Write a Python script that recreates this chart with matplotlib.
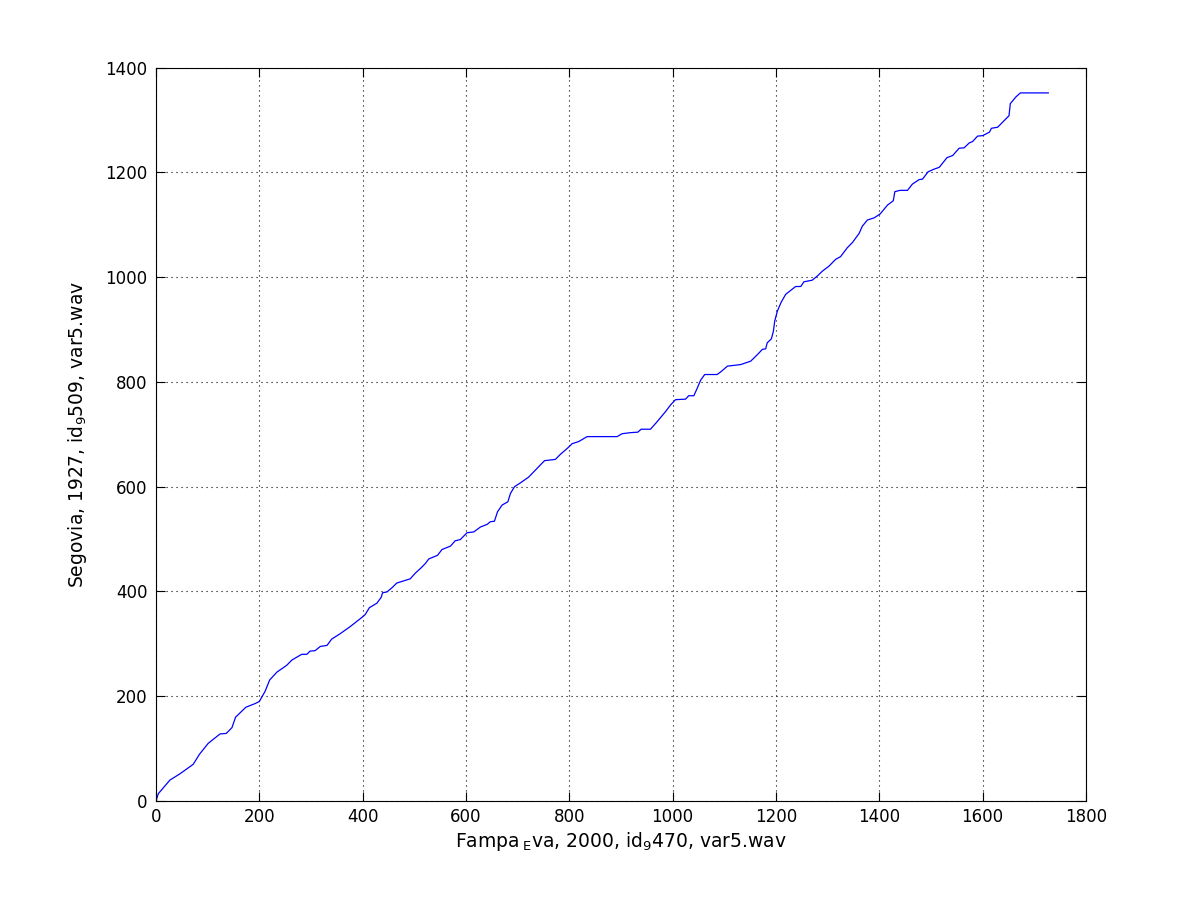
import matplotlib
matplotlib.use("Agg")
import matplotlib.pyplot as plt
import numpy as np

plt.rcParams['font.family'] = ['DejaVu Sans']
plt.rcParams['mathtext.fontset'] = 'dejavusans'

# alignment path (frame index pairs)
x_frames = [0, 4.5, 27, 46.5, 72, 84, 101, 124, 136, 147, 154, 174, 192, 200,
            211, 220, 234, 253, 263, 282, 292, 298, 308, 318, 331, 340, 356,
            376, 398, 405, 413, 427.6, 436, 438.5, 447, 456.7, 466, 482.5, 492,
            502, 511.5, 521, 528, 545, 553.5, 570, 579, 589, 602, 615, 628,
            641, 647, 655, 661, 670, 681, 686, 694, 705, 721, 737.6, 752, 773,
            783, 796, 805.5, 818, 834.5, 892.6, 902, 918, 932.6, 939, 957, 970,
            986, 996, 1005.6, 1025, 1031, 1041, 1047.6, 1054, 1062, 1086, 1093,
            1106, 1131.6, 1151, 1164, 1173.6, 1180, 1183, 1191, 1195, 1197.5,
            1202.6, 1210, 1218.7, 1231.7, 1238, 1248, 1254, 1270, 1280, 1290,
            1302.7, 1315.6, 1325, 1338, 1348, 1361, 1367, 1377, 1390, 1401.6,
            1416, 1427, 1430, 1440, 1454.5, 1464, 1477, 1483.6, 1494.5, 1506,
            1516, 1531, 1542, 1554.5, 1564, 1574, 1580.5, 1590, 1600, 1613,
            1617, 1629, 1642, 1651, 1653.5, 1664.5, 1673, 1727]
y_frames = [0, 14, 40, 52, 70, 89, 110, 128, 129, 140, 160, 179, 186, 190,
            209, 231, 246, 259, 269, 280, 280, 286, 287, 295, 297, 309, 319,
            333, 350, 356, 369, 377.6, 389, 397.5, 399, 407, 416, 421, 424,
            435, 443.5, 453, 462, 469, 480, 486.5, 496.6, 499, 512, 513.6, 523,
            528, 533, 534, 552, 565, 571, 587, 600, 607, 618, 635, 649.6, 652,
            662, 673, 682, 686, 695.5, 695.5, 701, 703, 704, 709.6, 709.6, 724,
            743, 756, 766, 767, 773.5, 773.5, 788, 803, 814, 814, 819,
            830, 833, 839.5, 852, 862, 863, 874.5, 882, 896.7, 915.8,
            935, 952, 967, 977, 982, 982, 991, 994, 1002, 1011.5,
            1021, 1034, 1039, 1056, 1066, 1083.5, 1097, 1109, 1113, 1120.5,
            1137.6, 1145.6, 1163, 1165.5, 1165.5, 1177.5, 1186, 1187, 1201, 1206,
            1209.5, 1228, 1232, 1246, 1246.6, 1256, 1258.6, 1269, 1270, 1276.5,
            1284, 1286, 1299, 1308, 1331, 1344, 1351.5, 1351.5]

x_label = r'Fampa$\,_{\mathrm{E}}$va, 2000, id$_{\mathrm{9}}$470, var5.wav'
y_label = r'Segovia, 1927, id$_{\mathrm{9}}$509, var5.wav'

fig = plt.figure(figsize=(12, 9), dpi=100)
ax = fig.add_axes([0.13, 0.11, 0.775, 0.815])

ax.plot(x_frames, y_frames, color='blue', lw=0.9)

ax.set_xlim(0, 1800)
ax.set_ylim(0, 1400)
ax.set_xticks(np.arange(0, 1801, 200))
ax.set_yticks(np.arange(0, 1401, 200))
ax.grid(True, color='black', linestyle=(0, (1, 3.5)), linewidth=0.8)
ax.tick_params(direction='in', length=6.5, width=0.8, top=True, right=True,
               labelsize=12, colors='black')
ax.tick_params(axis='x', pad=5)
ax.tick_params(axis='y', pad=6)
for sp in ax.spines.values():
    sp.set_linewidth(0.8)

ax.set_xlabel(x_label, fontsize=13.5, labelpad=3)
ax.set_ylabel(y_label, fontsize=13.5, labelpad=12)

fig.savefig('out.png', dpi=100)
